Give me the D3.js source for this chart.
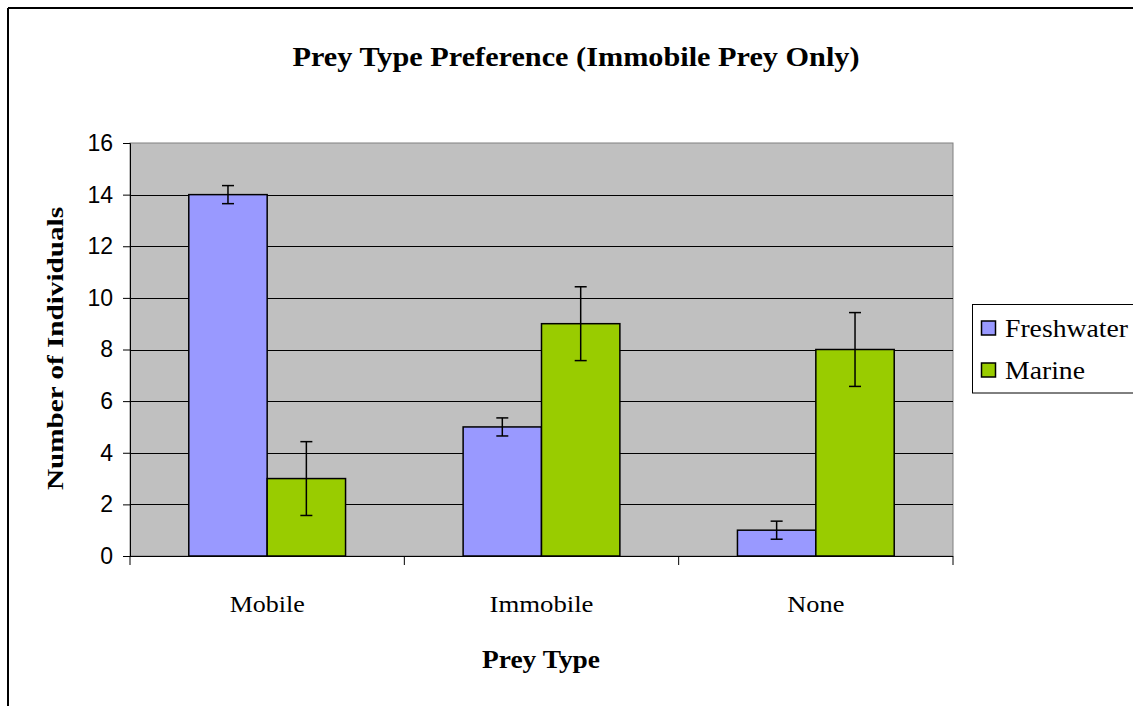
<!DOCTYPE html>
<html><head><meta charset="utf-8">
<script src="https://cdn.jsdelivr.net/npm/d3@7"></script>
<style>body{margin:0;background:#fff;overflow:hidden;}svg{display:block;}</style>
</head><body>
<script>
const categories = ["Mobile", "Immobile", "None"];
const seriesNames = ["Freshwater", "Marine"];
const freshwater = [14, 5, 1];
const marine = [3, 9, 8];
const freshwaterErr = [0.35, 0.35, 0.35];
const marineErr = [1.43, 1.43, 1.43];
const yTicks = [0, 2, 4, 6, 8, 10, 12, 14, 16];
const colors = ["#9999FF", "#99CC00"];

const W = 1133, H = 706;
const svg = d3.select("body").append("svg").attr("width", W).attr("height", H);
const serif = "'Liberation Serif', 'Times New Roman', serif";
const sans = "'Liberation Sans', Arial, sans-serif";

// outer frame (cropped at right and bottom)
svg.append("line").attr("x1", 8).attr("x2", W).attr("y1", 8).attr("y2", 8).attr("stroke", "#000").attr("stroke-width", 2);
svg.append("line").attr("x1", 8).attr("x2", 8).attr("y1", 8).attr("y2", H).attr("stroke", "#000").attr("stroke-width", 2);

const pl = 130, pr = 953, pt = 143, pb = 556;
const x0 = d3.scaleBand().domain(categories).range([pl, pr]).paddingInner(0).paddingOuter(0);
const x1 = d3.scaleBand().domain(seriesNames).range([0, x0.bandwidth()]).paddingOuter(0.75).paddingInner(0);
const y = d3.scaleLinear().domain([0, 16]).range([pb, pt]);

// plot background
svg.append("rect").attr("x", pl).attr("y", pt).attr("width", pr - pl).attr("height", pb - pt)
  .attr("fill", "#C0C0C0").attr("stroke", "#808080").attr("stroke-width", 1);

// gridlines
svg.append("g").selectAll("line").data(yTicks.filter(d => d > 0 && d < 16)).join("line")
  .attr("x1", pl).attr("x2", pr).attr("y1", d => Math.round(y(d)) + 0.5).attr("y2", d => Math.round(y(d)) + 0.5)
  .attr("stroke", "#000").attr("stroke-width", 1);

// bars
const data = categories.map((c, i) => [
  {cat: c, s: seriesNames[0], v: freshwater[i], e: freshwaterErr[i], col: colors[0]},
  {cat: c, s: seriesNames[1], v: marine[i], e: marineErr[i], col: colors[1]}
]).flat();

svg.append("g").selectAll("rect").data(data).join("rect")
  .attr("x", d => x0(d.cat) + x1(d.s))
  .attr("y", d => y(d.v))
  .attr("width", x1.bandwidth())
  .attr("height", d => y(0) - y(d.v))
  .attr("fill", d => d.col).attr("stroke", "#000").attr("stroke-width", 1.5);

// error bars
const eg = svg.append("g").attr("stroke", "#000").attr("stroke-width", 1.5);
data.forEach(d => {
  const cx = x0(d.cat) + x1(d.s) + x1.bandwidth() / 2;
  eg.append("line").attr("x1", cx).attr("x2", cx).attr("y1", y(d.v + d.e)).attr("y2", y(d.v - d.e));
  eg.append("line").attr("x1", cx - 6).attr("x2", cx + 6).attr("y1", y(d.v + d.e)).attr("y2", y(d.v + d.e));
  eg.append("line").attr("x1", cx - 6).attr("x2", cx + 6).attr("y1", y(d.v - d.e)).attr("y2", y(d.v - d.e));
});

// y axis
const yAxis = svg.append("g").attr("transform", `translate(${pl},0)`)
  .call(d3.axisLeft(y).tickValues(yTicks).tickSize(7).tickPadding(10).tickFormat(d3.format("d")));
yAxis.select(".domain").attr("stroke", "#000").attr("stroke-width", 1);
yAxis.selectAll(".tick line").attr("stroke", "#000");
yAxis.selectAll("text").attr("font-family", sans).attr("font-size", 23).attr("fill", "#000");

// x axis
const xAxis = svg.append("g").attr("transform", `translate(0,${pb})`);
xAxis.append("line").attr("x1", pl).attr("x2", pr).attr("y1", 0.5).attr("y2", 0.5).attr("stroke", "#000");
const bounds = [pl, ...categories.map(c => x0(c) + x0.bandwidth())];
xAxis.selectAll("line.t").data(bounds).join("line").attr("class", "t")
  .attr("x1", d => d).attr("x2", d => d).attr("y1", 0).attr("y2", 9).attr("stroke", "#000");
const xLabelW = [75, 104, 57];
xAxis.selectAll("text").data(categories).join("text")
  .attr("x", d => x0(d) + x0.bandwidth() / 2).attr("y", 56)
  .attr("text-anchor", "middle").attr("font-family", serif).attr("font-size", 24)
  .attr("textLength", (d, i) => xLabelW[i]).attr("lengthAdjust", "spacingAndGlyphs").text(d => d);

// title
svg.append("text").attr("x", 576).attr("y", 66).attr("text-anchor", "middle")
  .attr("font-family", serif).attr("font-weight", "bold").attr("font-size", 27)
  .attr("textLength", 567).attr("lengthAdjust", "spacingAndGlyphs")
  .text("Prey Type Preference (Immobile Prey Only)");

// axis titles
svg.append("text").attr("x", 541).attr("y", 668).attr("text-anchor", "middle")
  .attr("font-family", serif).attr("font-weight", "bold").attr("font-size", 25)
  .attr("textLength", 118).attr("lengthAdjust", "spacingAndGlyphs").text("Prey Type");
svg.append("text").attr("transform", "translate(63,348.5) rotate(-90)").attr("text-anchor", "middle")
  .attr("font-family", serif).attr("font-weight", "bold").attr("font-size", 23)
  .attr("textLength", 283).attr("lengthAdjust", "spacingAndGlyphs").text("Number of Individuals");

// legend
const legendW = [123, 80];
const lg = svg.append("g");
lg.append("rect").attr("x", 972.5).attr("y", 304.5).attr("width", 300).attr("height", 88.5)
  .attr("fill", "#fff").attr("stroke", "#000");
seriesNames.forEach((s, i) => {
  const yy = 328 + i * 42;
  lg.append("rect").attr("x", 981.5).attr("y", yy - 7).attr("width", 14).attr("height", 14)
    .attr("fill", colors[i]).attr("stroke", "#000").attr("stroke-width", 1.5);
  lg.append("text").attr("x", 1005).attr("y", yy + 9).attr("font-family", serif)
    .attr("font-size", 26).attr("textLength", legendW[i]).attr("lengthAdjust", "spacingAndGlyphs").text(s);
});
</script>
</body></html>
